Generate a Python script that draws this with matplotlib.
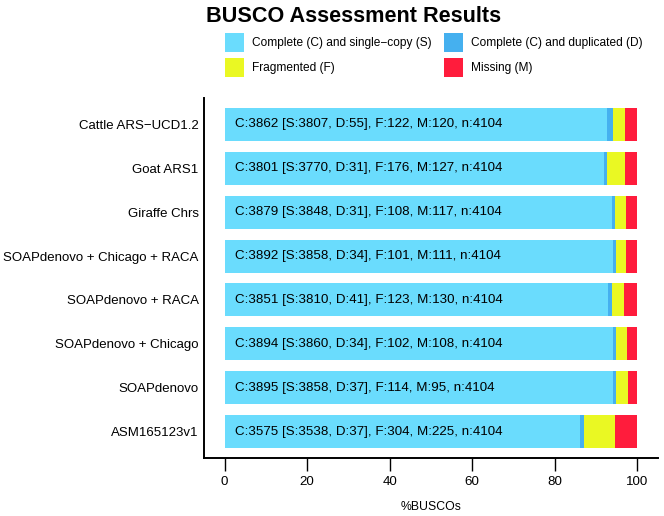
import matplotlib
matplotlib.use("Agg")
import matplotlib.pyplot as plt
from matplotlib.patches import Rectangle

plt.rcParams['font.family'] = ['Liberation Sans', 'DejaVu Sans']

assemblies = ["Cattle ARS\u2212UCD1.2", "Goat ARS1", "Giraffe Chrs",
              "SOAPdenovo + Chicago + RACA", "SOAPdenovo + RACA",
              "SOAPdenovo + Chicago", "SOAPdenovo", "ASM165123v1"]
complete = [3862, 3801, 3879, 3892, 3851, 3894, 3895, 3575]
single = [3807, 3770, 3848, 3858, 3810, 3860, 3858, 3538]
duplicated = [55, 31, 31, 34, 41, 34, 37, 37]
fragmented = [122, 176, 108, 101, 123, 102, 114, 304]
missing = [120, 127, 117, 111, 130, 108, 95, 225]
total = 4104

categories = ["Complete (C) and single\u2212copy (S)", "Complete (C) and duplicated (D)",
              "Fragmented (F)", "Missing (M)"]
colors = ["#6ADCFD", "#45B0EF", "#EAF823", "#FF1C3C"]
xticks = [0, 20, 40, 60, 80, 100]

W, H = 664, 516
fig = plt.figure(figsize=(W / 100, H / 100), dpi=100)
ax = fig.add_axes([204 / W, 1 - 458 / H, (658 - 204) / W, (458 - 98) / H])

n = len(assemblies)
ypos = [n - i for i in range(n)]
series = [single, duplicated, fragmented, missing]
left = [0.0] * n
for vals, col in zip(series, colors):
    pct = [v / total * 100 for v in vals]
    ax.barh(ypos, pct, left=left, height=0.75, color=col, linewidth=0)
    left = [l + p for l, p in zip(left, pct)]

for y, c, s, d, f, m in zip(ypos, complete, single, duplicated, fragmented, missing):
    ax.text(2.6, y, f"C:{c} [S:{s}, D:{d}], F:{f}, M:{m}, n:{total}",
            ha='left', va='center', fontsize=9.6, color='black')

ax.set_xlim(-5, 105)
ax.set_ylim(0.4, n + 0.6)
ax.set_yticks(ypos)
ax.set_yticklabels(assemblies, fontsize=9.5)
ax.set_xticks(xticks)
ax.set_xticklabels([str(t) for t in xticks], fontsize=9.6)
ax.tick_params(axis='y', length=0, pad=3.8)
ax.tick_params(axis='x', length=9, width=1, pad=4)
for sp in ['top', 'right']:
    ax.spines[sp].set_visible(False)
for sp in ['left', 'bottom']:
    ax.spines[sp].set_linewidth(1.4)
ax.set_xlabel("%BUSCOs", fontsize=8.8, labelpad=9)

fig.text(354 / W, 1 - 22 / H, "BUSCO Assessment Results", ha='center', va='baseline',
         fontsize=15.6, fontweight='bold')

pos = [(225, 33), (444, 33), (225, 58), (444, 58)]
for (px, py), lab, col in zip(pos, categories, colors):
    fig.patches.append(Rectangle((px / W, 1 - (py + 19) / H), 19 / W, 19 / H,
                                 transform=fig.transFigure, color=col, linewidth=0))
    fig.text((px + 27) / W, 1 - (py + 10) / H, lab, ha='left', va='center', fontsize=8.6)

fig.savefig("out.png", dpi=100)
